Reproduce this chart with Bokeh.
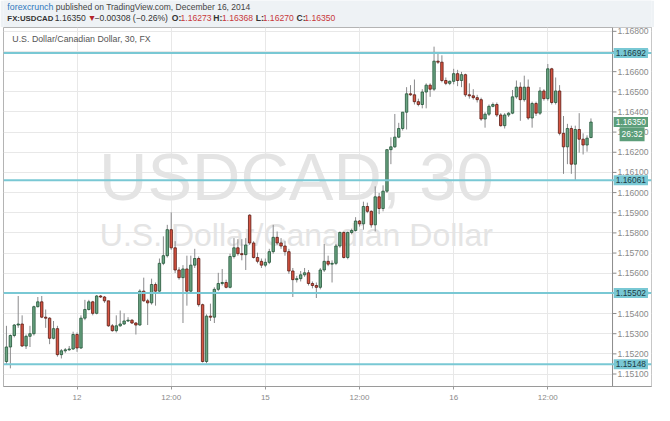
from bokeh.plotting import figure
from bokeh.models import (Range1d, FixedTicker, PrintfTickFormatter, Label, Span, BoxAnnotation,
                          ColumnDataSource)
from bokeh.layouts import column
from bokeh.embed import file_html
from bokeh.resources import INLINE

# ---------------- data (USDCAD, 30 min candles) ----------------
opens = [1.15162, 1.15234, 1.15291, 1.15343, 1.15348, 1.15239, 1.15287, 1.15300, 1.15434, 1.15458,
         1.15382, 1.15377, 1.15277, 1.15325, 1.15196, 1.15215, 1.15220, 1.15224, 1.15296, 1.15229,
         1.15377, 1.15420, 1.15458, 1.15401, 1.15487, 1.15482, 1.15463, 1.15339, 1.15315, 1.15339,
         1.15348, 1.15363, 1.15367, 1.15353, 1.15343, 1.15511, 1.15463, 1.15453, 1.15544, 1.15511,
         1.15649, 1.15687, 1.15816, 1.15726, 1.15616, 1.15578, 1.15621, 1.15511, 1.15640, 1.15673,
         1.15444, 1.15162, 1.15387, 1.15382, 1.15520, 1.15549, 1.15554, 1.15530, 1.15683, 1.15726,
         1.15697, 1.15692, 1.15888, 1.15750, 1.15678, 1.15659, 1.15640, 1.15654, 1.15707, 1.15778,
         1.15750, 1.15735, 1.15707, 1.15611, 1.15568, 1.15573, 1.15592, 1.15602, 1.15549, 1.15539,
         1.15530, 1.15616, 1.15659, 1.15645, 1.15649, 1.15735, 1.15802, 1.15678, 1.15802, 1.15812,
         1.15859, 1.15845, 1.15931, 1.15907, 1.15840, 1.15979, 1.15921, 1.16007, 1.16213, 1.16227,
         1.16275, 1.16318, 1.16399, 1.16490, 1.16485, 1.16451, 1.16437, 1.16499, 1.16533, 1.16513,
         1.16652, 1.16647, 1.16556, 1.16542, 1.16552, 1.16590, 1.16556, 1.16585, 1.16485, 1.16480,
         1.16471, 1.16461, 1.16365, 1.16389, 1.16428, 1.16437, 1.16385, 1.16332, 1.16385, 1.16394,
         1.16475, 1.16523, 1.16461, 1.16523, 1.16370, 1.16442, 1.16394, 1.16504, 1.16466, 1.16614,
         1.16447, 1.16504, 1.16294, 1.16227, 1.16318, 1.16141, 1.16313, 1.16265, 1.16236, 1.16273]
highs = [1.15339, 1.15296, 1.15348, 1.15487, 1.15391, 1.15296, 1.15339, 1.15439, 1.15482, 1.15487,
         1.15420, 1.15382, 1.15363, 1.15339, 1.15224, 1.15229, 1.15239, 1.15310, 1.15306, 1.15391,
         1.15468, 1.15468, 1.15463, 1.15492, 1.15492, 1.15487, 1.15463, 1.15348, 1.15391, 1.15415,
         1.15401, 1.15382, 1.15372, 1.15358, 1.15520, 1.15578, 1.15473, 1.15573, 1.15554, 1.15673,
         1.15783, 1.15840, 1.15902, 1.15759, 1.15630, 1.15640, 1.15687, 1.15687, 1.15721, 1.15683,
         1.15449, 1.15396, 1.15449, 1.15530, 1.15602, 1.15621, 1.15568, 1.15697, 1.15774, 1.15769,
         1.15769, 1.15774, 1.15893, 1.15759, 1.15702, 1.15673, 1.15673, 1.15721, 1.15840, 1.15807,
         1.15774, 1.15759, 1.15721, 1.15626, 1.15587, 1.15611, 1.15626, 1.15616, 1.15559, 1.15554,
         1.15626, 1.15745, 1.15687, 1.15664, 1.15745, 1.15807, 1.15807, 1.15807, 1.15821, 1.15878,
         1.15864, 1.15955, 1.15950, 1.15912, 1.16031, 1.15998, 1.16036, 1.16213, 1.16274, 1.16390,
         1.16346, 1.16399, 1.16523, 1.16533, 1.16561, 1.16466, 1.16513, 1.16542, 1.16542, 1.16724,
         1.16690, 1.16681, 1.16571, 1.16556, 1.16614, 1.16609, 1.16599, 1.16590, 1.16542, 1.16513,
         1.16485, 1.16471, 1.16399, 1.16437, 1.16447, 1.16447, 1.16394, 1.16394, 1.16399, 1.16509,
         1.16556, 1.16547, 1.16580, 1.16561, 1.16451, 1.16451, 1.16523, 1.16513, 1.16638, 1.16619,
         1.16571, 1.16533, 1.16380, 1.16341, 1.16332, 1.16332, 1.16394, 1.16294, 1.16284, 1.16368]
lows = [1.15148, 1.15128, 1.15282, 1.15329, 1.15234, 1.15224, 1.15234, 1.15291, 1.15430, 1.15377,
        1.15329, 1.15248, 1.15272, 1.15186, 1.15177, 1.15205, 1.15215, 1.15220, 1.15210, 1.15224,
        1.15367, 1.15415, 1.15391, 1.15396, 1.15477, 1.15453, 1.15334, 1.15310, 1.15306, 1.15334,
        1.15343, 1.15358, 1.15348, 1.15296, 1.15339, 1.15458, 1.15343, 1.15444, 1.15439, 1.15501,
        1.15640, 1.15678, 1.15716, 1.15601, 1.15568, 1.15353, 1.15439, 1.15501, 1.15626, 1.15434,
        1.15157, 1.15153, 1.15363, 1.15353, 1.15511, 1.15539, 1.15525, 1.15525, 1.15673, 1.15687,
        1.15664, 1.15616, 1.15740, 1.15673, 1.15649, 1.15626, 1.15630, 1.15645, 1.15697, 1.15740,
        1.15721, 1.15687, 1.15597, 1.15482, 1.15554, 1.15559, 1.15582, 1.15539, 1.15525, 1.15477,
        1.15520, 1.15606, 1.15635, 1.15554, 1.15640, 1.15726, 1.15673, 1.15669, 1.15793, 1.15807,
        1.15831, 1.15816, 1.15898, 1.15826, 1.15807, 1.15893, 1.15907, 1.15998, 1.16141, 1.16222,
        1.16270, 1.16308, 1.16313, 1.16480, 1.16437, 1.16428, 1.16418, 1.16418, 1.16475, 1.16504,
        1.16638, 1.16547, 1.16533, 1.16533, 1.16537, 1.16528, 1.16523, 1.16475, 1.16466, 1.16461,
        1.16447, 1.16356, 1.16322, 1.16380, 1.16423, 1.16375, 1.16327, 1.16318, 1.16375, 1.16389,
        1.16466, 1.16356, 1.16451, 1.16361, 1.16322, 1.16380, 1.16385, 1.16456, 1.16456, 1.16437,
        1.16437, 1.16284, 1.16093, 1.16141, 1.16093, 1.16060, 1.16198, 1.16189, 1.16203, 1.16270]
closes = [1.15234, 1.15291, 1.15343, 1.15348, 1.15239, 1.15287, 1.15300, 1.15434, 1.15458, 1.15382,
          1.15377, 1.15277, 1.15325, 1.15196, 1.15215, 1.15220, 1.15224, 1.15296, 1.15229, 1.15377,
          1.15420, 1.15458, 1.15401, 1.15487, 1.15482, 1.15463, 1.15339, 1.15315, 1.15339, 1.15348,
          1.15363, 1.15367, 1.15353, 1.15343, 1.15511, 1.15463, 1.15453, 1.15544, 1.15511, 1.15649,
          1.15687, 1.15816, 1.15726, 1.15616, 1.15578, 1.15621, 1.15511, 1.15640, 1.15673, 1.15444,
          1.15162, 1.15387, 1.15382, 1.15520, 1.15549, 1.15554, 1.15530, 1.15683, 1.15726, 1.15697,
          1.15692, 1.15740, 1.15750, 1.15678, 1.15659, 1.15640, 1.15654, 1.15707, 1.15778, 1.15750,
          1.15735, 1.15707, 1.15611, 1.15568, 1.15573, 1.15592, 1.15602, 1.15549, 1.15539, 1.15530,
          1.15616, 1.15659, 1.15645, 1.15649, 1.15735, 1.15802, 1.15678, 1.15802, 1.15812, 1.15859,
          1.15845, 1.15931, 1.15907, 1.15840, 1.15979, 1.15921, 1.16007, 1.16213, 1.16227, 1.16275,
          1.16318, 1.16399, 1.16490, 1.16485, 1.16451, 1.16437, 1.16499, 1.16533, 1.16513, 1.16652,
          1.16647, 1.16556, 1.16542, 1.16552, 1.16590, 1.16556, 1.16585, 1.16485, 1.16480, 1.16471,
          1.16461, 1.16365, 1.16389, 1.16428, 1.16437, 1.16385, 1.16332, 1.16385, 1.16394, 1.16475,
          1.16523, 1.16461, 1.16523, 1.16370, 1.16442, 1.16394, 1.16504, 1.16466, 1.16614, 1.16447,
          1.16504, 1.16294, 1.16227, 1.16318, 1.16141, 1.16313, 1.16265, 1.16236, 1.16270, 1.16350]
bar_index = list(range(len(closes)))

price_ticks = [1.151, 1.152, 1.153, 1.154, 1.155, 1.156, 1.157, 1.158, 1.159,
               1.160, 1.161, 1.162, 1.163, 1.164, 1.165, 1.166, 1.167, 1.168]
time_tick_index = [18, 42, 66, 90, 114, 138]
time_tick_labels = ["12", "12:00", "15", "12:00", "16", "12:00"]
level_prices = [1.16692, 1.16061, 1.15502, 1.15148]
level_labels = ["1.16692", "1.16061", "1.15502", "1.15148"]
last_price = 1.16350
last_price_label = "1.16350"
countdown_price = 1.16289
countdown_label = "26:32"

header_line1 = [("forexcrunch", "#2e78bd", "normal"),
                ("published on TradingView.com, December 16, 2014", "#444444", "normal")]
header_line2 = [("FX:USDCAD", "#333333", "bold"), ("1.16350", "#333333", "normal"),
                ("\u25bc", "#b3242a", "normal"), ("\u22120.00308 (\u22120.26%)", "#333333", "normal"),
                ("O:", "#333333", "bold"), ("1.16273", "#c8383b", "normal"),
                ("H:", "#333333", "bold"), ("1.16368", "#c8383b", "normal"),
                ("L:", "#333333", "bold"), ("1.16270", "#c8383b", "normal"),
                ("C:", "#333333", "bold"), ("1.16350", "#c8383b", "normal")]
chart_title = "U.S. Dollar/Canadian Dollar, 30, FX"
watermark_1 = "USDCAD, 30"
watermark_2 = "U.S. Dollar/Canadian Dollar"

# ---------------- style ----------------
FONT = "'Liberation Sans', Arial, sans-serif"
BG = "#eef2f5"
CYAN = "#79c8d4"
GREEN_TAG = "#5c9e7a"
UP_FILL, UP_LINE = "#6ba583", "#225437"
DN_FILL, DN_LINE = "#d75442", "#5b1a13"
W = 654
AXIS_X = 154.5          # where the candle pane ends and the price scale starts

# ---------------- header ----------------
hdr = figure(width=W, height=27, x_range=Range1d(0, W), y_range=Range1d(27, 0),
             toolbar_location=None, output_backend="svg", min_border=0,
             x_axis_location=None, y_axis_location=None,
             background_fill_color=BG, border_fill_color=BG, outline_line_color=None)
hdr.grid.visible = False
x1 = [3.9, 52.7]
x2 = [3.9, 51.7, 85.0, 91.7, 169.8, 178.6, 211.8, 220.6, 254.7, 261.6, 295.7, 303.5]
s1 = ["8.8px", "8.5px"]
s2 = ["7.8px"] + ["8.6px"] * 11
for (t, c, s), xx, fs in zip(header_line1, x1, s1):
    hdr.add_layout(Label(x=xx, y=6.8, text=t, text_color=c, text_font_style=s, text_font=FONT,
                         text_font_size=fs, text_baseline="middle"))
for (t, c, s), xx, fs in zip(header_line2, x2, s2):
    hdr.add_layout(Label(x=xx, y=17.8, text=t, text_color=c, text_font_style=s, text_font=FONT,
                         text_font_size=fs, text_baseline="middle"))

# ---------------- main chart ----------------
p = figure(width=W, height=378, x_range=Range1d(-0.75, 164.43), y_range=Range1d(1.15038, 1.16819),
           y_axis_location="right", toolbar_location=None, output_backend="svg",
           min_border_left=3, min_border_right=3, min_border_top=0, min_border_bottom=19,
           background_fill_color="white", border_fill_color="white",
           outline_line_color="#b4b4b4")

pt = FixedTicker(ticks=price_ticks)
tt = FixedTicker(ticks=time_tick_index)
ya = p.yaxis[0]
ya.ticker = pt
ya.formatter = PrintfTickFormatter(format="%.5f")
ya.axis_line_color = None
ya.major_tick_line_color = None
ya.minor_tick_line_color = None
ya.major_tick_out = 0
ya.major_tick_in = 0
ya.major_label_standoff = -34
ya.major_label_text_color = "#8a8a8a"
ya.major_label_text_font = FONT
ya.major_label_text_font_size = "8.6px"

xa = p.xaxis[0]
xa.ticker = tt
xa.major_label_overrides = {i: s for i, s in zip(time_tick_index, time_tick_labels)}
xa.axis_line_color = "#9a9a9a"
xa.major_tick_line_color = "#9a9a9a"
xa.minor_tick_line_color = None
xa.major_tick_in = 0
xa.major_tick_out = 3
xa.major_label_text_color = "#8a8a8a"
xa.major_label_text_font = FONT
xa.major_label_text_font_size = "8px"
xa.major_label_standoff = 3

p.xgrid.ticker = tt
p.ygrid.ticker = pt
p.grid.grid_line_color = "#e8e8e8"

# watermark
p.add_layout(Label(x=73.9, y=1.15893, text=watermark_1, text_align="center", text_font=FONT,
                   text_font_size="67px", text_color="#e4e4e4", level="underlay"))
p.add_layout(Label(x=73.9, y=1.15702, text=watermark_2, text_align="center", text_font=FONT,
                   text_font_size="32px", text_color="#e4e4e4", level="underlay"))

# price-scale strip (white, hides the grid there)
p.add_layout(BoxAnnotation(left=AXIS_X, fill_color="white", fill_alpha=1.0, line_color=None,
                           level="underlay"))

# candles
is_up = [c >= o for o, c in zip(opens, closes)]
src = ColumnDataSource(dict(
    x=bar_index, low=lows, high=highs,
    top=[max(o, c) for o, c in zip(opens, closes)],
    bottom=[min(o, c) for o, c in zip(opens, closes)],
    fill=[UP_FILL if u else DN_FILL for u in is_up],
    line=[UP_LINE if u else DN_LINE for u in is_up]))
p.segment(x0="x", y0="low", x1="x", y1="high", line_color="#8a8a8c", line_width=1, source=src)
p.vbar(x="x", top="top", bottom="bottom", width=0.62, fill_color="fill", line_color="line",
       line_width=0.8, source=src)

# price scale line and its tick marks
p.add_layout(Span(location=AXIS_X, dimension="height", line_color="#8c8c8c", line_width=1))
p.segment(x0=[AXIS_X] * len(price_ticks), x1=[AXIS_X + 1.0] * len(price_ticks),
          y0=price_ticks, y1=price_ticks, line_color="#8c8c8c", line_width=1)

# horizontal levels
for lv in level_prices:
    p.add_layout(Span(location=lv, dimension="width", line_color=CYAN, line_width=2))

# chart title
p.add_layout(Label(x=1.5, y=1.16762, text=chart_title, text_font=FONT, text_font_size="8.8px",
                   text_color="#555555", text_baseline="middle"))

# price tags on the price scale
for lv, lt in zip(level_prices, level_labels):
    p.add_layout(Label(x=AXIS_X + 0.3, y=lv, text=lt, text_font=FONT, text_font_size="8.4px",
                       text_color="#1d3b45", text_baseline="middle", background_fill_color=CYAN,
                       padding=2))
p.add_layout(Label(x=AXIS_X + 0.3, y=last_price, text=last_price_label, text_font=FONT,
                   text_font_size="8.4px", text_color="white", text_baseline="middle",
                   background_fill_color=GREEN_TAG, padding=2))
p.add_layout(Label(x=AXIS_X + 1.8, y=countdown_price, text=countdown_label, text_font=FONT,
                   text_font_size="8.4px", text_color="white", text_baseline="middle",
                   background_fill_color=GREEN_TAG, padding=2))

layout = column(hdr, p, spacing=0)
open("out.html", "w").write(file_html(layout, INLINE))
